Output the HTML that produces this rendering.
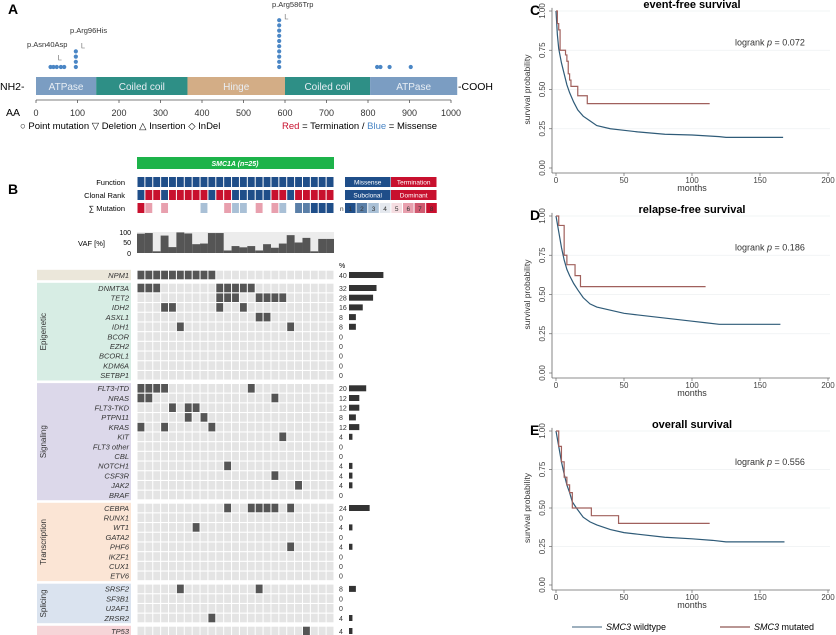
<!DOCTYPE html>
<html><head><meta charset="utf-8">
<style>
html,body{margin:0;padding:0;background:#fff;}
svg{display:block;font-family:"Liberation Sans",Arial,sans-serif;}
</style></head>
<body>
<svg id="fig" width="836" height="635" viewBox="0 0 836 635" xmlns="http://www.w3.org/2000/svg">
<g id="panelA">
 <text x="8" y="14" font-size="14" font-weight="bold">A</text>
 <text x="0" y="90" font-size="10.5">NH2-</text>
 <text x="458" y="90" font-size="10.5">-COOH</text>
 <text x="6" y="116" font-size="10.5">AA</text>
 <g id="domains"></g><g id="aaaxis"></g><g id="lolli"></g>
 <text x="20" y="129" font-size="9.5">○ Point mutation   ▽ Deletion   △ Insertion   ◇ InDel</text>
 <text x="282" y="129" font-size="9.5"><tspan fill="#c8102e">Red</tspan> = Termination / <tspan fill="#4a86c5">Blue</tspan> = Missense</text>
</g>
<g id="panelB">
 <text x="8" y="194" font-size="14" font-weight="bold">B</text>
 <rect x="137" y="157" width="197" height="12" fill="#1db34a"/>
 <text x="235" y="166" font-size="7" fill="#fff" font-weight="bold" font-style="italic" text-anchor="middle">SMC1A  (n=25)</text>
 <text x="125" y="185" font-size="7.5" text-anchor="end">Function</text>
 <text x="125" y="198" font-size="7.5" text-anchor="end">Clonal Rank</text>
 <text x="125" y="211" font-size="7.5" text-anchor="end">∑ Mutation</text>
 <text x="105" y="246" font-size="7.5" text-anchor="end">VAF [%]</text>
 <text x="131" y="235" font-size="7" text-anchor="end">100</text>
 <text x="131" y="245" font-size="7" text-anchor="end">50</text>
 <text x="131" y="256" font-size="7" text-anchor="end">0</text>
 <text x="339" y="268" font-size="7">%</text>
 <g id="legB"></g><g id="topRows"></g><g id="vaf"></g><g id="onco"></g>
</g>
<g id="km"></g>
<g>
 <line x1="572" y1="627" x2="602" y2="627" stroke="#7f95a8" stroke-width="1.5"/>
 <text x="606" y="630" font-size="9"><tspan font-style="italic">SMC3</tspan> wildtype</text>
 <line x1="720" y1="627" x2="750" y2="627" stroke="#a27470" stroke-width="1.5"/>
 <text x="754" y="630" font-size="9"><tspan font-style="italic">SMC3</tspan> mutated</text>
</g>
</svg>
<script>
const NS="http://www.w3.org/2000/svg";
function mk(parent,tag,attrs,txt){const e=document.createElementNS(NS,tag);for(const k in attrs)e.setAttribute(k,attrs[k]);if(txt!==undefined)e.textContent=txt;parent.appendChild(e);return e;}

/* ---------- Panel A data ---------- */
const domainNames=["ATPase","Coiled coil","Hinge","Coiled coil","ATPase"];
const domainStart=[0,145,365,600,805];
const domainEnd=[145,365,600,805,1015];
const domainColors=["#7b9dc2","#2e8f86","#d3ad86","#2e8f86","#7b9dc2"];
const aaTicks=[0,100,200,300,400,500,600,700,800,900,1000];
const mutPos=[35,42,50,60,68,96,586,822,830,852,903];
const mutCount=[1,1,1,1,1,4,10,1,1,1,1];

const ax=aa=>36+aa*0.415;
const gD=document.getElementById('domains');
domainNames.forEach((n,i)=>{
 const r=mk(gD,'rect',{x:ax(domainStart[i]),y:77,width:ax(domainEnd[i])-ax(domainStart[i]),height:18,fill:domainColors[i]});
 
 
 const t=mk(gD,'text',{x:(ax(domainStart[i])+ax(domainEnd[i]))/2,y:90,'font-size':10,fill:'#e8eef4','text-anchor':'middle'},n);
 
 
});
const gAx=document.getElementById('aaaxis');
mk(gAx,'line',{x1:ax(0),y1:100,x2:ax(1000),y2:100,stroke:'#555','stroke-width':0.8});
aaTicks.forEach(v=>{
 mk(gAx,'line',{x1:ax(v),y1:100,x2:ax(v),y2:103,stroke:'#555','stroke-width':0.8});
 const t=mk(gAx,'text',{x:ax(v),y:116,'font-size':9,'text-anchor':'middle',fill:'#333'},v);
 
 
});
const gL=document.getElementById('lolli');
mutPos.forEach((p,i)=>{
 for(let k=0;k<mutCount[i];k++){
  const c=mk(gL,'circle',{cx:ax(p),cy:67-k*5.2,r:2.1,fill:'#4a86c5'});
  
  
 }
});
[[27,47,'p.Asn40Asp',40,55],[70,33,'p.Arg96His',96,43],[272,7,'p.Arg586Trp',586,14]].forEach(a=>{
 const t=mk(gL,'text',{x:a[0],y:a[1],'font-size':7.5,fill:'#333'},a[2]);
 
 
 const bx=ax(a[3])+6;
 mk(gL,'polyline',{points:`${bx},${a[4]} ${bx},${a[4]+5} ${bx+3},${a[4]+5}`,fill:'none',stroke:'#666','stroke-width':0.6});
});

/* ---------- Panel B data ---------- */
const nCols=25;
const clonalRank=[0,1,1,0,1,1,1,1,1,0,1,1,0,0,0,0,0,1,1,0,1,1,1,1,1];
const sumMutation=[8,6,0,6,0,0,0,0,3,0,0,6,3,3,0,6,0,6,3,0,2,2,1,1,1];
const vafValues=[92,95,8,83,28,98,93,42,45,95,95,12,33,27,33,12,42,25,45,85,50,72,8,67,67];
const groupNames=["","Epigenetic","Signaling","Transcription","Splicing",""];
const groupColors=["#ebe7da","#d7ede4","#dcd8ea","#fbe5d5","#dae3ef","#f6d5d8"];
const genes=[
 ["NPM1",0,[0,1,2,3,4,5,6,7,8,9]],
 ["DNMT3A",1,[0,1,2,10,11,12,13,14]],["TET2",1,[10,11,12,15,16,17,18]],["IDH2",1,[3,4,10,13]],["ASXL1",1,[15,16]],["IDH1",1,[5,19]],["BCOR",1,[]],["EZH2",1,[]],["BCORL1",1,[]],["KDM6A",1,[]],["SETBP1",1,[]],
 ["FLT3-ITD",2,[0,1,2,3,14]],["NRAS",2,[0,1,17]],["FLT3-TKD",2,[4,6,7]],["PTPN11",2,[6,8]],["KRAS",2,[0,3,9]],["KIT",2,[18]],["FLT3 other",2,[]],["CBL",2,[]],["NOTCH1",2,[11]],["CSF3R",2,[17]],["JAK2",2,[20]],["BRAF",2,[]],
 ["CEBPA",3,[11,14,15,16,17,19]],["RUNX1",3,[]],["WT1",3,[7]],["GATA2",3,[]],["PHF6",3,[19]],["IKZF1",3,[]],["CUX1",3,[]],["ETV6",3,[]],
 ["SRSF2",4,[5,15]],["SF3B1",4,[]],["U2AF1",4,[]],["ZRSR2",4,[9]],
 ["TP53",5,[21]]
];
const sumColors={1:"#1f4e89",2:"#5a7fa8",3:"#a9c0d6",4:"#e4e8ee",5:"#f5dde1",6:"#e8a0ae",7:"#d05a70",8:"#c8102e"};
const cx0=137,cw=7.88;
const colX=i=>cx0+i*cw;

const gT=document.getElementById('topRows');
for(let i=0;i<nCols;i++){
 const f=mk(gT,'rect',{x:colX(i)+0.5,y:177,width:cw-1,height:10,fill:'#1f4e89'});
 
 
 const c=mk(gT,'rect',{x:colX(i)+0.5,y:190,width:cw-1,height:10,fill:clonalRank[i]?'#c8102e':'#1f4e89'});
 
 
 if(sumMutation[i]){
  const s=mk(gT,'rect',{x:colX(i)+0.5,y:203,width:cw-1,height:10,fill:sumColors[sumMutation[i]]});
  
  
 }
}
const gLB=document.getElementById('legB');
[["Missense",345,177,"#1f4e89"],["Termination",391,177,"#c8102e"],["Subclonal",345,190,"#1f4e89"],["Dominant",391,190,"#c8102e"]].forEach(a=>{
 const r=mk(gLB,'rect',{x:a[1],y:a[2],width:45.5,height:10,fill:a[3]});
 
 
 mk(gLB,'text',{x:a[1]+22.7,y:a[2]+7.5,'font-size':6.5,fill:'#fff','text-anchor':'middle'},a[0]);
});
mk(gLB,'text',{x:340,y:211,'font-size':6.5,fill:'#333'},'n');
for(let k=1;k<=8;k++){
 const r=mk(gLB,'rect',{x:345+(k-1)*11.6,y:203,width:10.6,height:10,fill:sumColors[k]});
 
 
 mk(gLB,'text',{x:350.3+(k-1)*11.6,y:211,'font-size':6.5,fill:'#333','text-anchor':'middle'},k);
}
const gV=document.getElementById('vaf');
mk(gV,'rect',{x:cx0,y:232,width:nCols*cw,height:21,fill:'#ececec'});
const vy=v=>253-v*0.21;
vafValues.forEach((v,i)=>{
 const r=mk(gV,'rect',{x:colX(i),y:vy(v),width:cw,height:253-vy(v),fill:'#555'});
 
 
});

const gO=document.getElementById('onco');
let y=275,prevG=-1;const rowY=[];
genes.forEach((g,i)=>{
 if(i>0){y+=9.7; if(g[1]!==prevG) y+=3.3;}
 rowY.push(y);prevG=g[1];
});
for(let gi=0;gi<groupNames.length;gi++){
 const idx=genes.map((g,i)=>g[1]===gi?i:-1).filter(i=>i>=0);
 const y0=rowY[idx[0]]-5.2,y1=rowY[idx[idx.length-1]]+5.2;
 const r=mk(gO,'rect',{x:37,y:y0,width:94,height:y1-y0,fill:groupColors[gi]});
 
 
 if(groupNames[gi]){
  const cy=(y0+y1)/2;
  const t=mk(gO,'text',{x:46,y:cy,'font-size':8,fill:'#333','text-anchor':'middle',transform:`rotate(-90 46 ${cy})`},groupNames[gi]);
  
  
 }
}
genes.forEach((g,i)=>{
 const ry=rowY[i];
 const t=mk(gO,'text',{x:129,y:ry+2.8,'font-size':7.5,'font-style':'italic',fill:'#333','text-anchor':'end'},g[0]);
 
 
 for(let c=0;c<nCols;c++){
  const m=g[2].includes(c);
  const r=mk(gO,'rect',{x:colX(c)+0.5,y:ry-4.3,width:cw-1,height:8.6,fill:m?'#555':'#e4e4e4'});
  
  
 }
 const pct=Math.round(g[2].length/nCols*100);
 const pt=mk(gO,'text',{x:339,y:ry+2.8,'font-size':7,fill:'#333'},pct);
 
 
 if(pct>0){
  const b=mk(gO,'rect',{x:349,y:ry-3,width:pct*0.86,height:6,fill:'#333'});
  
  
 }
});

/* ---------- KM data ---------- */
const kmTitles=["event-free survival","relapse-free survival","overall survival"];
const kmLetters=["C","D","E"];
const kmP=["0.072","0.186","0.556"];
const kmTop=[11,216,431];
const kmBottom=[168,373,585];
const xTicks=[0,50,100,150,200];
const yTicks=[0,0.25,0.5,0.75,1];
const wtC=[[0,1],[1,0.85],[2,0.76],[4,0.67],[6,0.6],[8,0.53],[10,0.48],[13,0.42],[16,0.37],[20,0.33],[25,0.3],[30,0.27],[40,0.25],[50,0.24],[60,0.23],[80,0.215],[100,0.21],[120,0.2],[125,0.195],[167,0.195]];
const muC=[[0,1],[1,0.92],[2,0.88],[3,0.75],[6,0.75],[7,0.72],[8,0.68],[9,0.6],[10,0.56],[11,0.52],[15,0.52],[16,0.46],[22,0.46],[23,0.41],[113,0.41]];
const wtD=[[0,1],[2,0.9],[4,0.8],[6,0.72],[8,0.66],[10,0.62],[13,0.57],[16,0.53],[20,0.48],[25,0.44],[30,0.42],[40,0.4],[50,0.38],[60,0.37],[80,0.35],[100,0.33],[110,0.32],[120,0.31],[165,0.31]];
const muD=[[0,1],[2,0.94],[5,0.94],[6,0.75],[7,0.75],[8,0.69],[13,0.69],[14,0.62],[17,0.62],[18,0.55],[110,0.55]];
const wtE=[[0,1],[2,0.9],[4,0.8],[6,0.72],[8,0.65],[10,0.6],[12,0.54],[15,0.5],[20,0.44],[25,0.41],[30,0.39],[40,0.36],[50,0.34],[60,0.33],[80,0.31],[100,0.3],[115,0.29],[125,0.28],[168,0.28]];
const muE=[[0,1],[2,0.9],[4,0.8],[6,0.7],[8,0.65],[10,0.6],[12,0.5],[25,0.5],[26,0.45],[45,0.45],[46,0.4],[113,0.4]];
const wtSeries=[wtC,wtD,wtE];
const muSeries=[muC,muD,muE];

const gK=document.getElementById('km');
const kx=m=>556+m*1.36;
kmTitles.forEach((title,p)=>{
 const top=kmTop[p],bot=kmBottom[p];
 const ky=v=>bot-(bot-top)*v;
 const g=mk(gK,'g',{});
 
 
 const L=mk(g,'text',{x:530,y:top+4,'font-size':14,'font-weight':'bold'},kmLetters[p]);
 
 
 const T=mk(g,'text',{x:692,y:top-3,'font-size':11,'font-weight':'bold','text-anchor':'middle'},title);
 
 
 yTicks.forEach(v=>{
  if(v>0) mk(g,'line',{x1:553,y1:ky(v),x2:830,y2:ky(v),stroke:'#eef0f2','stroke-width':0.8});
  mk(g,'line',{x1:549,y1:ky(v),x2:552,y2:ky(v),stroke:'#666','stroke-width':0.7});
  const t=mk(g,'text',{x:545,y:ky(v),'font-size':8,fill:'#444','text-anchor':'middle',transform:`rotate(-90 545 ${ky(v)})`},v.toFixed(2));
  
  
 });
 mk(g,'line',{x1:552,y1:ky(1.02),x2:552,y2:bot+5,stroke:'#666','stroke-width':0.8});
 mk(g,'line',{x1:552,y1:bot+5,x2:830,y2:bot+5,stroke:'#666','stroke-width':0.8});
 xTicks.forEach(v=>{
  mk(g,'line',{x1:kx(v),y1:bot+5,x2:kx(v),y2:bot+8,stroke:'#666','stroke-width':0.7});
  const t=mk(g,'text',{x:kx(v),y:bot+15,'font-size':8,fill:'#444','text-anchor':'middle'},v);
  
  
 });
 const xt=mk(g,'text',{x:692,y:bot+23,'font-size':9,fill:'#333','text-anchor':'middle'},'months');
 
 
 const ymid=(top+bot)/2;
 const yt=mk(g,'text',{x:530,y:ymid,'font-size':8.5,fill:'#333','text-anchor':'middle',transform:`rotate(-90 530 ${ymid})`},'survival probability');
 
 
 const lr=mk(g,'text',{x:735,y:ky(0.8)+3,'font-size':9,fill:'#333'});
 
 
 lr.innerHTML='logrank <tspan font-style="italic">p</tspan> = '+kmP[p];
 [[wtSeries[p],'#2f5b78','wildtype',false],[muSeries[p],'#a0605c','mutated',true]].forEach(s=>{
  let d='';
  s[0].forEach((pt,i)=>{
   if(i===0) d+=`M${kx(pt[0])},${ky(pt[1])}`;
   else if(s[3]) d+=`H${kx(pt[0])}V${ky(pt[1])}`;
   else d+=`L${kx(pt[0])},${ky(pt[1])}`;
  });
  const path=mk(g,'path',{d:d,fill:'none',stroke:s[1],'stroke-width':1.2});
  
  
 });
});
</script>
</body></html>
